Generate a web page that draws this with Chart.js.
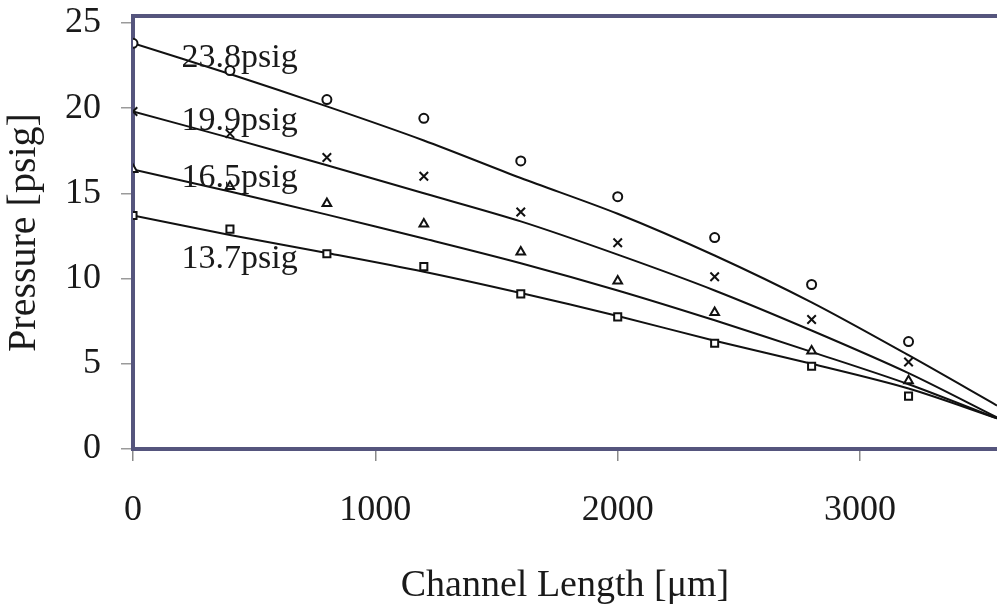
<!DOCTYPE html>
<html>
<head>
<meta charset="utf-8">
<script src="https://cdn.jsdelivr.net/npm/chart.js@4.4.1/dist/chart.umd.min.js"></script>
<style>
  html, body { margin: 0; padding: 0; background: #ffffff; }
  #wrap { width: 997px; height: 609px; position: relative; }
</style>
</head>
<body>
<div id="wrap"><canvas id="c" width="997" height="609"></canvas></div>
<script>
// ---- data ----
const channelLength = [0, 400, 800, 1200, 1600, 2000, 2400, 2800, 3200];
const p238 = [23.8, 22.2, 20.5, 19.4, 16.9, 14.8, 12.4, 9.65, 6.3];
const p199 = [19.8, 18.5, 17.1, 16.0, 13.9, 12.1, 10.1, 7.6, 5.1];
const p165 = [16.4, 15.4, 14.4, 13.2, 11.55, 9.85, 8.0, 5.75, 4.0];
const p137 = [13.7, 12.9, 11.45, 10.7, 9.1, 7.75, 6.2, 4.85, 3.1];

// fitted curves
const fitLength = [0, 400, 800, 1200, 1600, 2000, 2400, 2800, 3200, 3565];
const fit238 = [23.8, 22.0, 20.1, 18.1, 15.9, 13.8, 11.35, 8.6, 5.5, 2.55];
const fit199 = [19.8, 18.25, 16.65, 15.0, 13.35, 11.4, 9.3, 6.95, 4.45, 1.85];
const fit165 = [16.4, 15.1, 13.75, 12.35, 10.9, 9.3, 7.55, 5.7, 3.8, 1.8];
const fit137 = [13.7, 12.55, 11.5, 10.4, 9.15, 7.8, 6.35, 5.0, 3.55, 1.8];

const seriesLabels = ['23.8psig', '19.9psig', '16.5psig', '13.7psig'];
const xTicks = [0, 1000, 2000, 3000];
const yTicks = [0, 5, 10, 15, 20, 25];

// label anchor (data coordinates of text baseline-left)
const labelX = [200, 200, 200, 200];
const labelY = [22.4, 18.7, 15.35, 10.6];

const toXY = (xs, ys) => xs.map((x, i) => ({ x: x, y: ys[i] }));

const axisColor = '#55557d';
const serif = "'Liberation Serif', 'DejaVu Serif', serif";

function markerSet(label, ys, style, radius) {
  return {
    type: 'scatter',
    label: label,
    data: toXY(channelLength, ys),
    showLine: false,
    pointStyle: style,
    pointRadius: radius,
    pointBorderColor: '#111',
    pointBackgroundColor: '#ffffff',
    pointBorderWidth: 2,
    order: 1
  };
}
function fitSet(label, ys) {
  return {
    type: 'line',
    label: label + ' fit',
    data: toXY(fitLength, ys),
    borderColor: '#111',
    borderWidth: 2,
    pointRadius: 0,
    tension: 0.3,
    fill: false,
    order: 2
  };
}

const annotations = {
  id: 'annotations',
  afterDatasetsDraw(chart) {
    const { ctx, scales: { x, y }, chartArea } = chart;
    ctx.save();
    // top border
    ctx.strokeStyle = axisColor;
    ctx.lineWidth = 4;
    ctx.beginPath();
    ctx.moveTo(chartArea.left, chartArea.top);
    ctx.lineTo(chartArea.right, chartArea.top);
    ctx.stroke();
    ctx.fillStyle = '#1a1a1a';
    ctx.font = "34px " + serif;
    ctx.textAlign = 'left';
    ctx.textBaseline = 'alphabetic';
    seriesLabels.forEach((t, i) => {
      ctx.fillText(t, x.getPixelForValue(labelX[i]), y.getPixelForValue(labelY[i]));
    });
    ctx.restore();
  }
};

new Chart(document.getElementById('c'), {
  data: {
    datasets: [
      fitSet(seriesLabels[0], fit238),
      fitSet(seriesLabels[1], fit199),
      fitSet(seriesLabels[2], fit165),
      fitSet(seriesLabels[3], fit137),
      markerSet(seriesLabels[0], p238, 'circle', 4.5),
      markerSet(seriesLabels[1], p199, 'crossRot', 6),
      markerSet(seriesLabels[2], p165, 'triangle', 5),
      markerSet(seriesLabels[3], p137, 'rect', 5)
    ]
  },
  options: {
    responsive: false,
    animation: false,
    devicePixelRatio: 1,
    layout: { autoPadding: false, padding: { top: 16, right: 0, left: 0, bottom: 0 } },
    plugins: {
      legend: { display: false },
      tooltip: { enabled: false }
    },
    scales: {
      x: {
        type: 'linear',
        min: 0,
        max: 3565,
        afterBuildTicks: (s) => { s.ticks = xTicks.map(v => ({ value: v })); },
        afterFit: (s) => { s.height = 160; s.paddingLeft = 0; s.paddingRight = 0; },
        ticks: {
          includeBounds: false,
          color: '#1a1a1a',
          font: { family: serif, size: 36 },
          padding: 28,
          maxRotation: 0,
          autoSkip: false,
          callback: (v) => String(v)
        },
        grid: {
          drawOnChartArea: false,
          drawTicks: true,
          tickLength: 12,
          color: '#8a8a8a',
          lineWidth: 1.5
        },
        border: { color: axisColor, width: 4 },
        title: {
          display: true,
          text: 'Channel Length [μm]',
          color: '#1a1a1a',
          font: { family: serif, size: 38 },
          padding: { top: 18, bottom: 0 }
        }
      },
      y: {
        type: 'linear',
        min: 0,
        max: 25.4,
        afterBuildTicks: (s) => { s.ticks = yTicks.map(v => ({ value: v })); },
        afterFit: (s) => { s.width = 133; s.paddingTop = 0; s.paddingBottom = 0; },
        ticks: {
          includeBounds: false,
          color: '#1a1a1a',
          font: { family: serif, size: 36 },
          padding: 20,
          callback: (v) => String(v)
        },
        grid: {
          drawOnChartArea: false,
          drawTicks: true,
          tickLength: 12,
          color: '#9a9a9a',
          lineWidth: 1.5
        },
        border: { color: axisColor, width: 4 },
        title: {
          display: true,
          text: 'Pressure [psig]',
          color: '#1a1a1a',
          font: { family: serif, size: 40 },
          padding: { top: 0, bottom: 2 }
        }
      }
    }
  },
  plugins: [annotations]
});
</script>
</body>
</html>
